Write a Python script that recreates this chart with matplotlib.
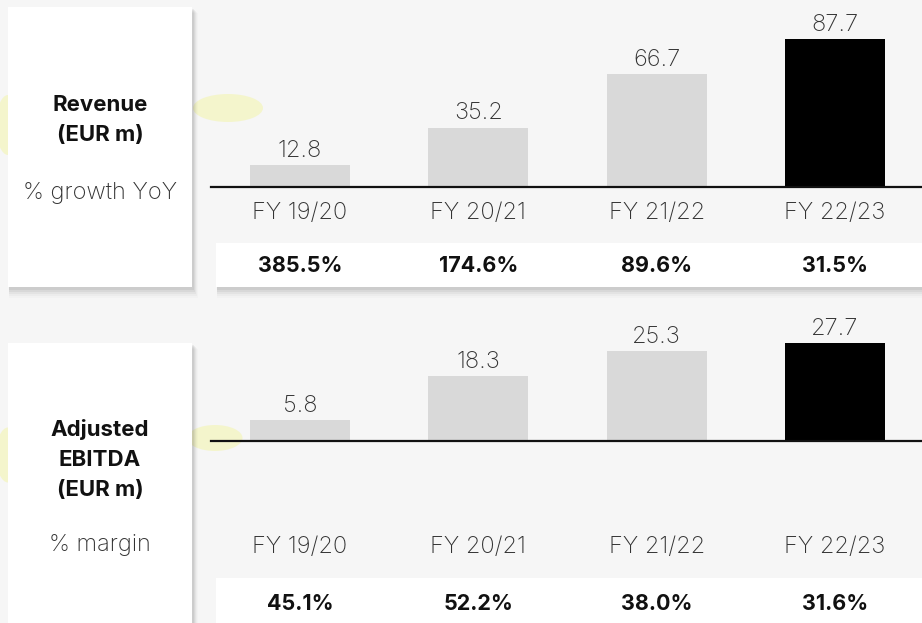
import matplotlib
matplotlib.use("Agg")
import matplotlib.pyplot as plt
from matplotlib.patches import Rectangle, Ellipse

# ---------------- data ----------------
periods = ["FY 19/20", "FY 20/21", "FY 21/22", "FY 22/23"]
revenue = [12.8, 35.2, 66.7, 87.7]
revenue_growth = ["385.5%", "174.6%", "89.6%", "31.5%"]
ebitda = [5.8, 18.3, 25.3, 27.7]
ebitda_margin = ["45.1%", "52.2%", "38.0%", "31.6%"]
bar_colors = ["#d9d9d9", "#d9d9d9", "#d9d9d9", "#000000"]

W, H = 922, 623
FONT = ["Inter", "DejaVu Sans"]
plt.rcParams["font.family"] = FONT

fig = plt.figure(figsize=(W / 100, H / 100), dpi=100)
fig.patch.set_facecolor("#f6f6f6")

# overlay axes in pixel coordinates for decorations
ov = fig.add_axes([0, 0, 1, 1], zorder=0)
ov.set_xlim(0, W)
ov.set_ylim(H, 0)
ov.axis("off")

# faint yellow paint splashes (decoration)
for (cx, cy, ew, eh) in [(8, 125, 24, 60), (228, 108, 70, 28), (8, 455, 24, 55), (215, 438, 55, 26)]:
    ov.add_patch(Ellipse((cx, cy), ew, eh, facecolor="#eef53a", alpha=0.22,
                         edgecolor="none", zorder=0.5))


def box(x0, y0, x1, y1):
    # soft shadow
    for k, a in enumerate([0.05, 0.045, 0.035, 0.025, 0.015]):
        d = k + 1
        ov.add_patch(Rectangle((x0 + 1, y0 + d + 1), x1 - x0 + d, y1 - y0 + d,
                               facecolor="black", alpha=a, edgecolor="none", zorder=1))
    ov.add_patch(Rectangle((x0, y0), x1 - x0, y1 - y0, facecolor="white",
                           edgecolor="none", zorder=2))


# left label boxes
box(8, 7, 192, 287)
box(8, 343, 192, 640)
# percentage rows
box(216, 243, 940, 287)
box(216, 578, 940, 640)

BOLD = dict(ha="center", va="center", fontsize=16, fontweight="bold", color="#111111", zorder=5)
LIGHT = dict(ha="center", va="center", fontsize=17, fontweight="light", color="#333333", zorder=5)

ov.text(100, 105, "Revenue", **BOLD)
ov.text(100, 135, "(EUR m)", **BOLD)
ov.text(100, 193, "% growth YoY", **LIGHT)

ov.text(100, 429, "Adjusted", **BOLD)
ov.text(100, 460, "EBITDA", **BOLD)
ov.text(100, 490, "(EUR m)", **BOLD)
ov.text(100, 545, "% margin", **LIGHT)

# bar axes geometry (pixels)
x_left, x_right = 211, 922
c0, step = 300.0, 178.3
xlo = -(c0 - x_left) / step
xhi = xlo + (x_right - x_left) / step
bar_w = 100 / step


def panel(top_px, base_px, px_per_unit, values, pcts, fy_px, pct_px):
    h = base_px - top_px
    ax = fig.add_axes([x_left / W, 1 - base_px / H, (x_right - x_left) / W, h / H], zorder=3)
    ax.patch.set_alpha(0)
    x = list(range(len(values)))
    ax.bar(x, values, width=bar_w, color=bar_colors, zorder=2)
    ax.set_xlim(xlo, xhi)
    ax.set_ylim(0, h / px_per_unit)
    for s in ["top", "right", "left"]:
        ax.spines[s].set_visible(False)
    ax.spines["bottom"].set_linewidth(1.6)
    ax.spines["bottom"].set_color("#111111")
    ax.set_xticks([])
    ax.set_yticks([])
    for i, v in enumerate(values):
        ax.annotate(f"{v:.1f}", (i, v), xytext=(0, 2.5), textcoords="offset points",
                    ha="center", va="bottom", fontsize=17, fontweight="light", color="#333333",
                    annotation_clip=False)
    tr = ax.get_xaxis_transform()
    for i, lab in enumerate(periods):
        ax.text(i, -(fy_px - base_px) / h, lab, transform=tr, ha="center", va="center",
                fontsize=17, fontweight="light", color="#333333", clip_on=False)
        ax.text(i, -(pct_px - base_px) / h, pcts[i], transform=tr, ha="center", va="center",
                fontsize=15.5, fontweight="bold", color="#111111", clip_on=False)
    return ax


panel(7, 187, 148 / 87.7, revenue, revenue_growth, 213, 266)
panel(321, 441, 98 / 27.7, ebitda, ebitda_margin, 547, 604)

fig.savefig("out.png", dpi=100, facecolor=fig.get_facecolor())
